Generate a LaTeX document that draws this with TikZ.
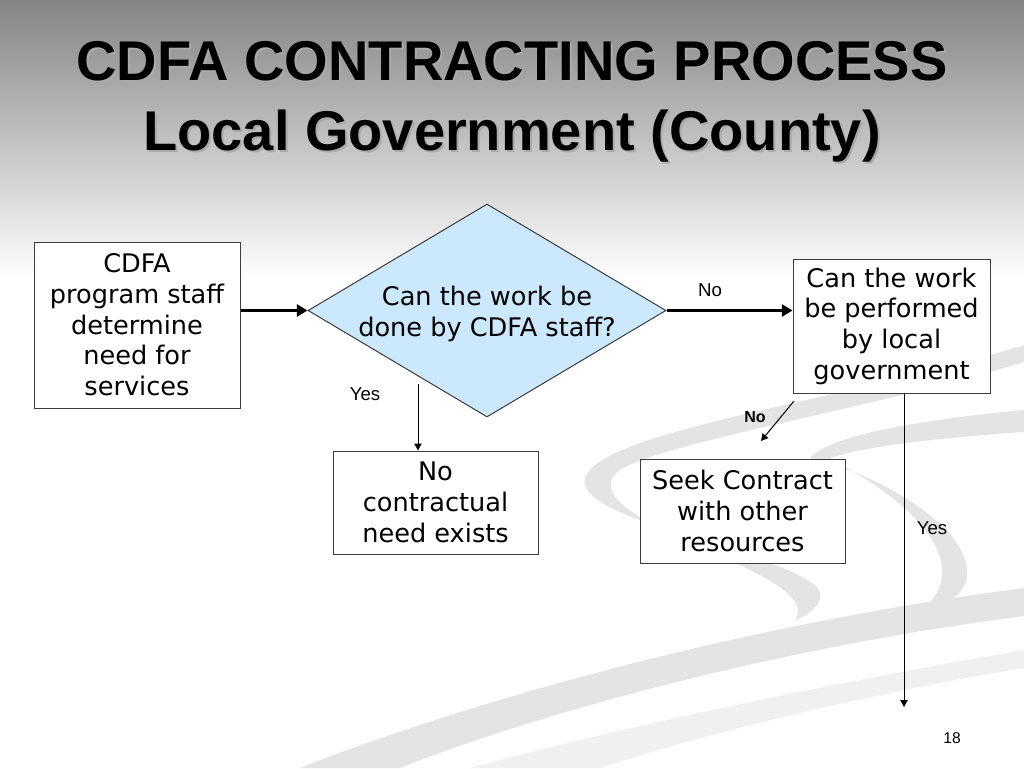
\documentclass[tikz,border=0pt]{standalone}
\usepackage{fontspec}
\setmainfont{DejaVu Sans}
\newfontfamily\arialfont{Liberation Sans}
\usetikzlibrary{shapes.geometric,arrows.meta}
\definecolor{topgray}{RGB}{132,132,132}
\definecolor{swoosh}{RGB}{228,228,228}
\definecolor{swooshlight}{RGB}{240,240,240}
\definecolor{boxline}{RGB}{60,60,60}
\definecolor{qblue}{RGB}{204,232,252}
\definecolor{titleshadow}{RGB}{170,170,170}
\tikzset{
  procbox/.style={draw=boxline, line width=0.75pt, fill=white, rectangle, inner sep=0pt,
    align=center, font=\fontsize{19.2pt}{23pt}\selectfont},
  qdiamond/.style={draw=boxline, line width=0.75pt, fill=qblue, diamond, inner sep=0pt,
    minimum width=268.5pt, minimum height=159.75pt},
  qtext/.style={align=center, font=\fontsize{19.2pt}{23pt}\selectfont},
  thickarrow/.style={line width=2.6pt, -{Triangle[length=8pt,width=9pt]}},
  thinarrow/.style={line width=0.75pt, -{Triangle[length=5.25pt,width=5.5pt]}},
  edgelabel/.style={font=\arialfont\fontsize{14pt}{16pt}\selectfont},
  boldlabel/.style={font=\arialfont\bfseries\fontsize{12pt}{14pt}\selectfont},
  titletext/.style={font=\arialfont\bfseries\fontsize{42pt}{50pt}\selectfont, anchor=base}
}
\begin{document}
\begin{tikzpicture}[x=0.75pt,y=-0.75pt]
\useasboundingbox (0,0) rectangle (1024,768);
% background
\fill[white] (0,0) rectangle (1024,768);
\shade[top color=topgray, bottom color=white] (0,0) rectangle (1024,280);
% swooshes
\fill[swoosh] (1024,345) .. controls (850,400) and (600,430) .. (585,478)
  .. controls (575,520) and (760,545) .. (815,585)
  .. controls (830,600) and (810,615) .. (795,620)
  .. controls (805,605) and (790,590) .. (750,570)
  .. controls (680,535) and (600,510) .. (612,478)
  .. controls (625,448) and (850,415) .. (1024,362) -- cycle;
\fill[swoosh] (1024,410) .. controls (920,420) and (830,435) .. (810,458)
  .. controls (850,465) and (950,510) .. (965,560)
  .. controls (975,590) and (950,605) .. (920,612)
  .. controls (940,595) and (950,575) .. (935,545)
  .. controls (910,500) and (850,470) .. (830,458)
  .. controls (870,445) and (950,437) .. (1024,432) -- cycle;
\fill[swoosh] (300,768) .. controls (420,720) and (700,630) .. (1024,588)
  -- (1024,616) .. controls (760,650) and (520,720) .. (400,768) -- cycle;
\fill[swooshlight] (470,768) .. controls (650,720) and (850,680) .. (1024,650)
  -- (1024,668) .. controls (860,695) and (700,735) .. (600,768) -- cycle;
% title
\node[titletext, text=titleshadow] (t1s) at (514,82) {CDFA CONTRACTING PROCESS};
\node[titletext] (t1) at (512,80) {CDFA CONTRACTING PROCESS};
\node[titletext, text=titleshadow] (t2s) at (514,152) {Local Government (County)};
\node[titletext] (t2) at (512,150) {Local Government (County)};
% nodes
\node[procbox, minimum width=154.5pt, minimum height=124.5pt] (A) at (137,325)
  {CDFA\\program staff\\determine\\need for\\services};
\node[qdiamond] (Q) at (487,310.5) {};
\node[qtext] (Qt) at (487,314) {Can the work be\\done by CDFA staff?};
\node[procbox, minimum width=147.75pt, minimum height=100.5pt] (B) at (891.5,326)
  {\raisebox{-2.2pt}{\parbox{140pt}{\centering Can the work\\be performed\\by local\\government}}};
\node[procbox, minimum width=153.75pt, minimum height=77.25pt] (C) at (435.5,502.5)
  {No\\contractual\\need exists};
\node[procbox, minimum width=153.75pt, minimum height=78pt] (D) at (742.5,511)
  {Seek Contract\\with other\\resources};
% connectors
\draw[thickarrow] (A.east |- Q.west) -- (Q.west);
\draw[thickarrow] (Q.east) -- (Q.east -| B.west);
\coordinate (ys) at (418,384);
\draw[thinarrow] (ys) -- (ys |- C.north);
\coordinate (n1) at (794,401);
\coordinate (n2) at (761,441);
\draw[thinarrow] (n1) -- (n2);
\coordinate (yend) at (904,707);
\draw[thinarrow] (yend |- B.south) -- (yend);
% labels
\node[edgelabel] (lno1) at (710,290) {No};
\node[edgelabel] (lyes1) at (365,394) {Yes};
\node[boldlabel] (lno2) at (755,417) {No};
\node[edgelabel] (lyes2) at (932,528) {Yes};
\node[font=\arialfont\fontsize{11.7pt}{13pt}\selectfont] (pg) at (952,738) {18};
\end{tikzpicture}
\end{document}
